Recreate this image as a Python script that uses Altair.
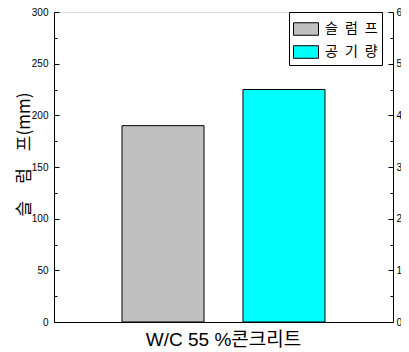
import altair as alt
import pandas as pd

categories = ["W/C 55 %콘크리트"]
series = ["슬\u2002럼\u2002프", "공\u2002기\u2002량"]
slump = [190]
air = [4.5]
colors = ["#C0C0C0", "#00FFFF"]

left_major_ticks = [0, 50, 100, 150, 200, 250, 300]
left_minor_ticks = [25, 75, 125, 175, 225, 275]
right_major_ticks = [0, 1, 2, 3, 4, 5, 6]
right_minor_ticks = [0.5, 1.5, 2.5, 3.5, 4.5, 5.5]

df = pd.DataFrame({
    "cat": [categories[0], categories[0]],
    "series": series,
    "value": [slump[0], air[0]],
})

W, H = 339, 310
NUM_FONT = "Liberation Sans Narrow, Arial Narrow, Liberation Sans, Noto Sans CJK KR"
KR_FONT = "Noto Sans CJK KR"

x_enc = alt.X("cat:N",
              scale=alt.Scale(paddingInner=0, paddingOuter=0.335),
              axis=alt.Axis(title=None, labelAngle=0, ticks=False, domain=True,
                            domainColor="black", labelFontSize=19, labelColor="black",
                            labelFont=NUM_FONT, labelPadding=8))
xoff_enc = alt.XOffset("series:N",
                       scale=alt.Scale(domain=series, paddingInner=0.322, paddingOuter=0))
color_enc = alt.Color("series:N",
                      scale=alt.Scale(domain=series, range=colors),
                      legend=alt.Legend(title=None, orient="none", legendX=235, legendY=0,
                                        strokeColor="black", fillColor="white", padding=4,
                                        symbolType="M-1,-0.5H1V0.5H-1Z", symbolSize=625,
                                        symbolStrokeColor="black", symbolStrokeWidth=1,
                                        symbolOpacity=1, labelFont=KR_FONT, labelFontSize=14,
                                        labelColor="black", rowPadding=1, labelOffset=6))

base = alt.Chart(df)

left_filter = alt.datum.series == series[0]
right_filter = alt.datum.series == series[1]

left_scale = alt.Scale(domain=[0, 300], nice=False, zero=True)
right_scale = alt.Scale(domain=[0, 6], nice=False, zero=True)

left_bar = base.transform_filter(left_filter).mark_bar(stroke="black", strokeWidth=1).encode(
    x=x_enc, xOffset=xoff_enc, color=color_enc,
    y=alt.Y("value:Q", scale=left_scale,
            axis=alt.Axis(orient="left", values=left_major_ticks, ticks=False, grid=False,
                          domain=True, domainColor="black", labelFont=NUM_FONT,
                          labelFontSize=10, labelColor="black", labelPadding=6,
                          title="슬\u2003럼\u2003프(mm)", titleFont=KR_FONT, titleFontSize=17,
                          titleFontWeight="normal", titleColor="black", titleAngle=270,
                          titleBaseline="bottom", titleX=-21, titleY=142)),
)
left_major = base.transform_filter(left_filter).mark_point(opacity=0).encode(
    y=alt.Y("value:Q", scale=left_scale,
            axis=alt.Axis(orient="right", offset=-W, values=left_major_ticks, labels=False,
                          domain=False, grid=False, tickSize=5, tickColor="black", title=None)),
)
left_minor = base.transform_filter(left_filter).mark_point(opacity=0).encode(
    y=alt.Y("value:Q", scale=left_scale,
            axis=alt.Axis(orient="right", offset=-W, values=left_minor_ticks, labels=False,
                          domain=False, grid=False, tickSize=3, tickColor="black", title=None)),
)

right_bar = base.transform_filter(right_filter).mark_bar(stroke="black", strokeWidth=1).encode(
    x=x_enc, xOffset=xoff_enc, color=color_enc,
    y=alt.Y("value:Q", scale=right_scale,
            axis=alt.Axis(orient="right", values=right_major_ticks, ticks=False, grid=False,
                          domain=True, domainColor="black", labelFont=NUM_FONT,
                          labelFontSize=10, labelColor="black", labelPadding=3,
                          title="공\u2003기\u2003량(%)", titleFont=KR_FONT, titleFontSize=17,
                          titleFontWeight="normal", titleColor="black", titleAngle=270,
                          titleBaseline="top", titleX=9, titleY=142)),
)
right_major = base.transform_filter(right_filter).mark_point(opacity=0).encode(
    y=alt.Y("value:Q", scale=right_scale,
            axis=alt.Axis(orient="left", offset=-W, values=right_major_ticks, labels=False,
                          domain=False, grid=False, tickSize=5, tickColor="black", title=None)),
)
right_minor = base.transform_filter(right_filter).mark_point(opacity=0).encode(
    y=alt.Y("value:Q", scale=right_scale,
            axis=alt.Axis(orient="left", offset=-W, values=right_minor_ticks, labels=False,
                          domain=False, grid=False, tickSize=3, tickColor="black", title=None)),
)

left = alt.layer(left_bar, left_major, left_minor)
right = alt.layer(right_bar, right_major, right_minor)

chart = alt.layer(left, right).resolve_scale(y="independent").properties(
    width=W, height=H,
    autosize=alt.AutoSizeParams(type="none"),
    padding={"left": 46, "top": 4, "right": 8, "bottom": 30},
).configure_view(stroke="black", strokeWidth=1).configure(background="white")

chart.save("out.html", embed_options={"renderer": "svg", "actions": False})
